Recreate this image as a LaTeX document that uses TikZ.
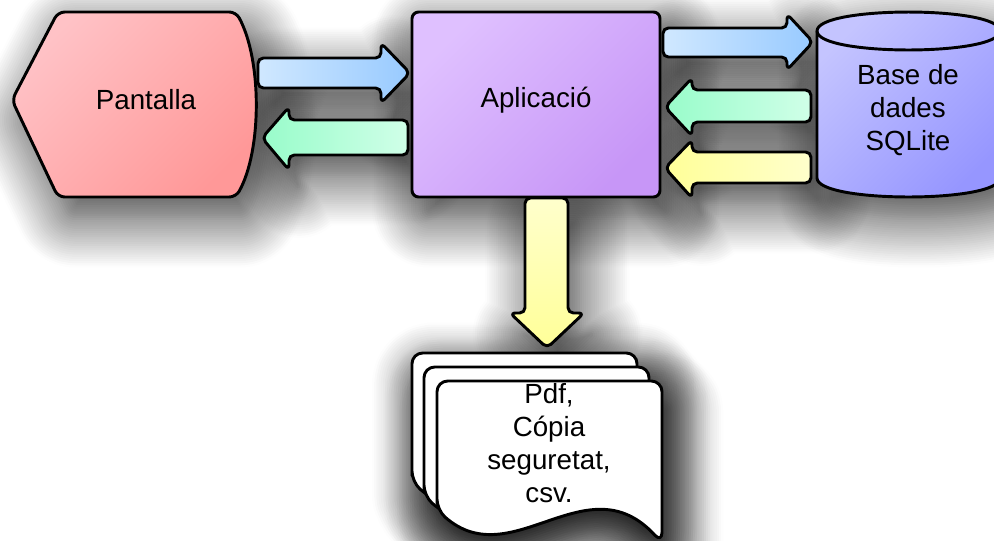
\documentclass[tikz,border=0pt]{standalone}
\usepackage{fontspec}
\setmainfont{Liberation Sans}
\usetikzlibrary{shadows.blur}

\definecolor{panA}{HTML}{FFC2C6}
\definecolor{panB}{HTML}{FF9898}
\definecolor{appA}{HTML}{DFC0FF}
\definecolor{appB}{HTML}{C796F7}
\definecolor{dbA}{HTML}{C4C4FF}
\definecolor{dbB}{HTML}{9696FF}
\definecolor{blueA}{HTML}{D0E8FF}
\definecolor{blueB}{HTML}{98CAFF}
\definecolor{greenA}{HTML}{98FCCA}
\definecolor{greenB}{HTML}{D0FFE8}
\definecolor{yelA}{HTML}{FFFF98}
\definecolor{yelB}{HTML}{FFFFCC}

% outlines of the shapes, in pixel-like units with y pointing down
\def\pathPan{(12,100) -- (58,12) -- (236,12) .. controls (262,60) and (262,150) .. (236,197) -- (58,197) -- cycle}
\def\pathApp{(412,12) rectangle (660,197)}
\def\pathDb{(817,31) -- (817,178) .. controls (817,203.3) and (1000,203.3) .. (1000,178) -- (1000,31) .. controls (1000,5.7) and (817,5.7) .. (817,31) -- cycle}
\def\pathDoc{(0,129) -- (0,0) -- (225,0) -- (225,162) .. controls (150,80) and (75,195) .. (0,129) -- cycle}
% block arrows
\def\pathBlueL{(258,58) -- (381,58) -- (381,43) -- (410,73) -- (381,103) -- (381,88) -- (258,88) -- cycle}
\def\pathGreenL{(408,120) -- (289,120) -- (289,107) -- (262,138) -- (289,170) -- (289,155) -- (408,155) -- cycle}
\def\pathBlueR{(663,28) -- (787,28) -- (787,14) -- (813,42) -- (787,70) -- (787,57) -- (663,57) -- cycle}
\def\pathGreenR{(811,90) -- (692,90) -- (692,78) -- (665,107) -- (692,136) -- (692,122) -- (811,122) -- cycle}
\def\pathYelR{(811,152) -- (692,152) -- (692,140) -- (665,168) -- (692,198) -- (692,183) -- (811,183) -- cycle}
\def\pathDown{(525,198) -- (525,313) -- (510,313) -- (547,348) -- (584,313) -- (568,313) -- (568,198) -- cycle}

\tikzset{
  outline/.style={draw=black, line width=2.2pt, line join=round, rounded corners=5},
  dropshadow/.style={blur shadow={shadow xshift=8pt, shadow yshift=-15pt,
      shadow blur radius=38pt, shadow opacity=80, shadow blur steps=24}},
  diag/.style 2 args={top color=#1, bottom color=#2, shading angle=45},
  horiz/.style 2 args={left color=#1, right color=#2},
  lbl/.style={font=\fontsize{20.8}{24.8}\selectfont, align=center, inner sep=0pt},
}

\begin{document}
\begin{tikzpicture}[x=0.75pt, y=-0.75pt]
\useasboundingbox (0,0) rectangle (994,540);
\clip (0,0) rectangle (994,540);

% soft drop shadows, drawn first so that they lie under every shape
\path[dropshadow, rounded corners=5] \pathPan;
\path[dropshadow, rounded corners=5] \pathApp;
\path[dropshadow] \pathDb;
\path[dropshadow, rounded corners=4] \pathBlueL;
\path[dropshadow, rounded corners=4] \pathGreenL;
\path[dropshadow, rounded corners=4] \pathBlueR;
\path[dropshadow, rounded corners=4] \pathGreenR;
\path[dropshadow, rounded corners=4] \pathYelR;
\path[dropshadow, rounded corners=4] \pathDown;
\foreach \dx/\dy in {412/353, 424/367, 437/381}{
  \path[dropshadow, rounded corners=8, shift={(\dx,\dy)}] \pathDoc;
}

% block arrows
\path[outline, rounded corners=4, horiz={blueA}{blueB}] \pathBlueL;
\path[outline, rounded corners=4, horiz={greenA}{greenB}] \pathGreenL;
\path[outline, rounded corners=4, horiz={blueA}{blueB}] \pathBlueR;
\path[outline, rounded corners=4, horiz={greenA}{greenB}] \pathGreenR;
\path[outline, rounded corners=4, horiz={yelA}{yelB}] \pathYelR;
\path[outline, rounded corners=4, top color=yelB, bottom color=yelA] \pathDown;

% main shapes
\path[outline, diag={panA}{panB}] \pathPan;
\path[outline, diag={appA}{appB}] \pathApp;
\path[outline, rounded corners=0, diag={dbA}{dbB}] \pathDb;
\draw[line width=2.2pt] (817,31) .. controls (817,56.3) and (1000,56.3) .. (1000,31);

% stack of documents
\foreach \dx/\dy in {412/353, 424/367, 437/381}{
  \path[outline, rounded corners=8, fill=white, shift={(\dx,\dy)}] \pathDoc;
}

% labels
\node[lbl] (pan) at (146,100) {Pantalla};
\node[lbl] (app) at (536,100) {Aplicació};
\node[lbl] (db) at (908,110) {Base de\\dades\\SQLite};
\node[lbl] (docs) at (549,443) {Pdf,\\Cópia\\seguretat,\\csv.};
\end{tikzpicture}
\end{document}
